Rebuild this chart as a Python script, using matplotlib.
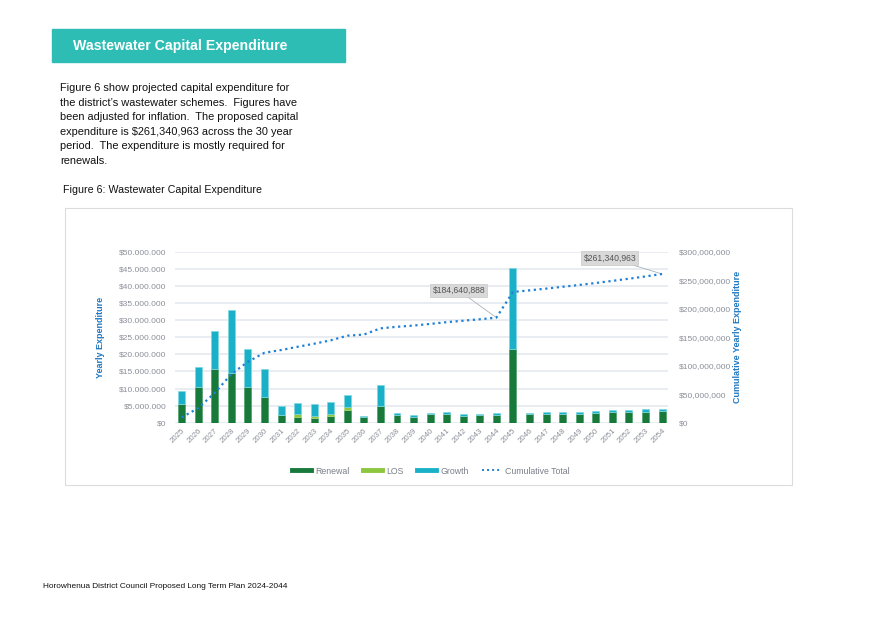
import numpy as np
import matplotlib
matplotlib.use("Agg")
import matplotlib.pyplot as plt
from matplotlib.patches import Rectangle
from matplotlib.lines import Line2D
from matplotlib.ticker import FuncFormatter, MultipleLocator

plt.rcParams['font.family'] = ['Liberation Sans', 'DejaVu Sans']

# Data (values in $ millions)
years = [str(y) for y in range(2025, 2055)]
renewal = [5.5, 10.6, 15.7, 14.5, 10.5, 7.45, 2.25, 1.8, 1.5, 2.0,
           3.7, 1.6, 4.8, 2.15, 1.75, 2.55, 2.55, 2.05, 2.15, 2.35,
           21.7, 2.45, 2.55, 2.65, 2.65, 2.85, 3.05, 3.15, 3.25, 3.35]
los = [0, 0, 0, 0, 0, 0, 0, 0.8, 0.6, 0.6,
       0.8, 0, 0, 0, 0, 0, 0, 0, 0, 0,
       0, 0, 0, 0, 0, 0, 0, 0, 0, 0]
growth = [3.8, 5.7, 11.1, 18.5, 11.2, 8.35, 2.55, 3.1, 3.3, 3.4,
          3.6, 0.4, 6.1, 0.6, 0.4, 0.35, 0.55, 0.5, 0.4, 0.4,
          23.5, 0.4, 0.5, 0.55, 0.55, 0.65, 0.65, 0.65, 0.75, 0.75]
cumulative = [9.3, 25.6, 52.4, 85.4, 107.1, 122.9, 127.7, 133.4, 138.8, 144.8,
              152.9, 154.9, 165.8, 168.55, 170.7, 173.6, 176.7, 179.25, 181.8, 184.64,
              229.75, 232.6, 235.65, 238.85, 242.05, 245.55, 249.25, 253.05, 257.05, 261.34]
labels = {19: '$184,640,888', 29: '$261,340,963'}

paragraph = [
    "Figure 6 show projected capital expenditure for",
    "the district\u2019s wastewater schemes.  Figures have",
    "been adjusted for inflation.  The proposed capital",
    "expenditure is $261,340,963 across the 30 year",
    "period.  The expenditure is mostly required for",
    "renewals.",
]

W, H = 875, 618
fig = plt.figure(figsize=(W / 100, H / 100), dpi=100)

def fx(px):
    return px / W

def fy(py):
    return 1 - py / H

# header box
fig.patches.append(Rectangle((fx(52), fy(62)), fx(345) - fx(52), fy(29) - fy(62),
                             transform=fig.transFigure, color='#2ebdb5', zorder=0))
fig.text(fx(73), fy(46), "Wastewater Capital Expenditure", color='white',
         fontsize=10.2, fontweight='bold', va='center')

for i, line in enumerate(paragraph):
    fig.text(fx(60), fy(88 + i * 14.6), line, fontsize=7.9, va='center', color='#111111')

fig.text(fx(63), fy(190), "Figure 6: Wastewater Capital Expenditure", fontsize=7.7,
         va='center', color='#111111')
fig.text(fx(43), fy(586), "Horowhenua District Council Proposed Long Term Plan 2024-2044",
         fontsize=5.95, va='center', color='#111111')

# chart frame
fig.patches.append(Rectangle((fx(65), fy(485)), fx(792) - fx(65), fy(208) - fy(485),
                             transform=fig.transFigure, fill=False, ec='#dcdcdc', lw=0.8))

ax = fig.add_axes([fx(175), fy(422.7), fx(668) - fx(175), fy(252) - fy(422.7)])
x = np.arange(len(years))
c_ren, c_los, c_gro = '#177a3a', '#8dc63f', '#1ab1c8'
bw = 0.42
ren = np.array(renewal)
lo = np.array(los)
gr = np.array(growth)
ax.bar(x, ren, bw, color=c_ren, edgecolor='#4fa06a', lw=0.5, zorder=3)
ax.bar(x, lo, bw, bottom=ren, color=c_los, edgecolor='#b3da7a', lw=0.5, zorder=3)
ax.bar(x, gr, bw, bottom=ren + lo, color=c_gro, edgecolor='#7fd6e2', lw=0.5, zorder=3)

ax.set_xlim(-0.4, len(years) - 0.64)
ax.set_ylim(0, 50)
ax.yaxis.set_major_locator(MultipleLocator(5))
ax.yaxis.set_major_formatter(FuncFormatter(lambda v, p: ('$' + f'{v * 1e6:,.0f}').replace(',', '.')))
ax.grid(axis='y', color='#e9ecf0', lw=1.4, zorder=0)
ax.set_axisbelow(True)
for s in ax.spines.values():
    s.set_visible(False)
ax.tick_params(axis='y', length=0, labelsize=6, labelcolor='#8a8f98', pad=6)
ax.set_xticks(x)
ax.set_xticklabels(years, rotation=45, ha='right', rotation_mode='anchor')
ax.tick_params(axis='x', length=0, labelsize=5.7, labelcolor='#8a8f98', pad=3)
ax.set_ylabel("Yearly Expenditure", color='#1f78c1', fontsize=6.5, fontweight='bold', labelpad=10)

ax2 = ax.twinx()
ax2.plot(x, cumulative, color='#1f80d8', lw=1.6, ls=(0, (1, 1.6)), zorder=4)
ax2.set_ylim(0, 300)
ax2.yaxis.set_major_locator(MultipleLocator(50))
ax2.yaxis.set_major_formatter(FuncFormatter(lambda v, p: '$' + f'{v * 1e6:,.0f}'))
ax2.tick_params(axis='y', length=0, labelsize=6, labelcolor='#8a8f98', pad=8)
for s in ax2.spines.values():
    s.set_visible(False)
ax2.set_ylabel("Cumulative Yearly Expenditure", color='#1f78c1', fontsize=6.5,
               fontweight='bold', labelpad=1)

offsets = {19: (-27, 19.5), 29: (-37.5, 11.5)}
for i, txt in labels.items():
    ax2.annotate(txt, (x[i], cumulative[i]), xytext=offsets[i], textcoords='offset points',
                 ha='center', va='center', fontsize=6.2, color='#555555',
                 bbox=dict(boxstyle='square,pad=0.25', fc='#d9d9d9', ec='#c8c8c8', lw=0.5),
                 arrowprops=dict(arrowstyle='-', color='#a9b4bd', lw=0.6, shrinkA=0, shrinkB=0))

# legend
handles = [Line2D([], [], color=c_ren, lw=3.5),
           Line2D([], [], color=c_los, lw=3.5),
           Line2D([], [], color=c_gro, lw=3.5),
           Line2D([], [], color='#1f80d8', lw=1.4, ls=(0, (1, 1.6)))]
fig.legend(handles, ['Renewal', 'LOS', 'Growth', 'Cumulative Total'], loc='center',
           bbox_to_anchor=(fx(431), fy(471)), ncol=4, frameon=False, fontsize=6.3,
           labelcolor='#7a7f88', handlelength=2.1, handletextpad=0.5, columnspacing=1.6)

fig.savefig('out.png', dpi=100)
